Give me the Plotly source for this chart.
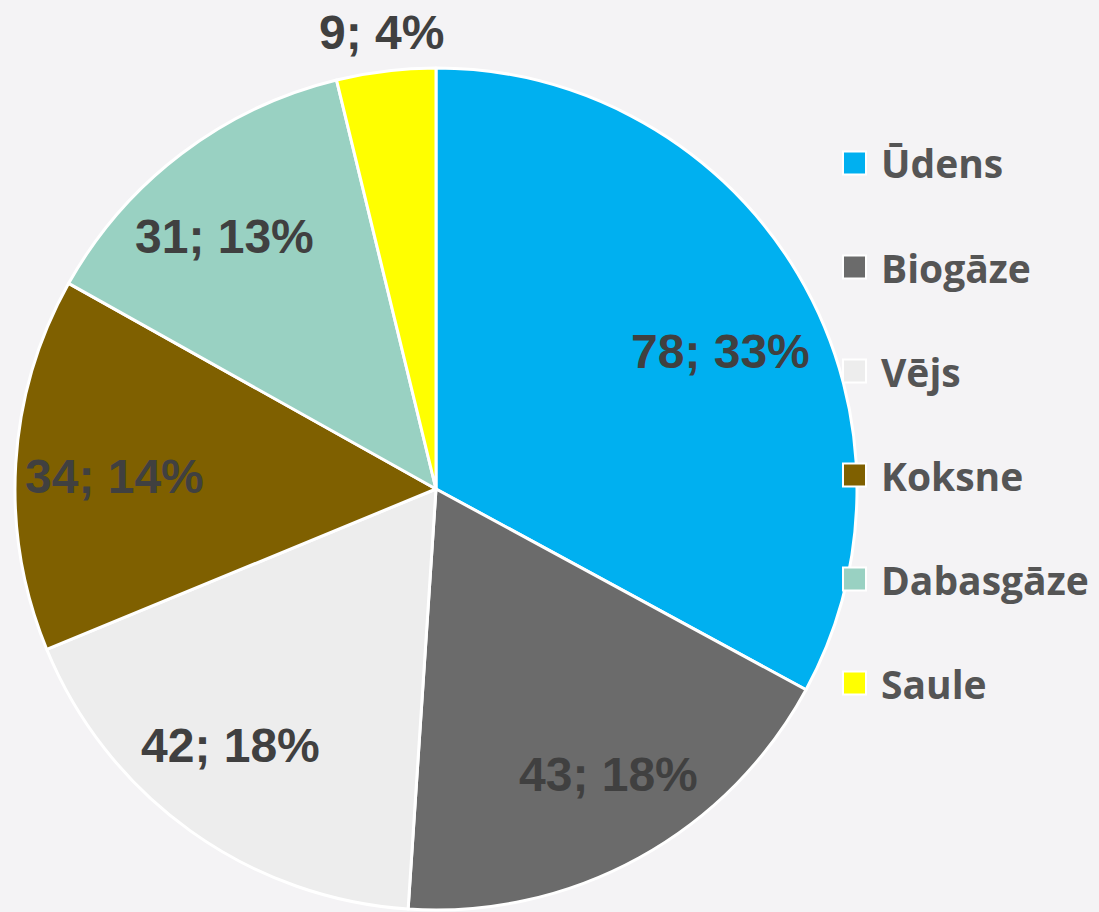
import math
import plotly.graph_objects as go

categories = ["Ūdens", "Biogāze", "Vējs", "Koksne", "Dabasgāze", "Saule"]
values = [78, 43, 42, 34, 31, 9]
colors = ["#00b0f0", "#6b6b6b", "#ededed", "#7f6000", "#99d1c2", "#ffff00"]
label_outside = [False, False, False, False, False, True]

W, H = 1099, 912
CX, CY, R = 436, 489, 421  # pixel geometry of pie
# small pixel nudges of data labels (layout only)
label_nudge = [(4, 29), (15, 0), (-15, -8), (4, 7), (-14, 7), (0, -3)]

fig = go.Figure()
fig.add_trace(go.Pie(
    labels=categories, values=values, sort=False, direction="clockwise", rotation=0,
    marker=dict(colors=colors, line=dict(color="white", width=3)),
    textinfo="none", hoverinfo="label+value+percent", showlegend=False,
    domain=dict(x=[(CX - R) / W, (CX + R) / W], y=[(H - CY - R) / H, (H - CY + R) / H]),
))

total = sum(values)
annotations = []
shapes = []
cum = 0
for cat, v, out, (nx, ny) in zip(categories, values, label_outside, label_nudge):
    mid = 90 - (cum + v / 2) / total * 360
    cum += v
    rf = 1.085 if out else 0.775
    px = CX + rf * R * math.cos(math.radians(mid)) + nx
    py = CY - rf * R * math.sin(math.radians(mid)) + ny
    pct = round(v / total * 100)
    annotations.append(dict(
        x=px / W, y=1 - py / H, xref="paper", yref="paper", showarrow=False,
        text=f"<b>{v}; {pct}%</b>", xanchor="center", yanchor="middle",
        font=dict(family="Liberation Sans, Arial", size=48, color="#404040"),
    ))

# manual legend
LX0, LY0, LSTEP, SQ = 843, 163, 104, 23
for i, (cat, col) in enumerate(zip(categories, colors)):
    yc = LY0 + i * LSTEP
    shapes.append(dict(
        type="rect", xref="paper", yref="paper",
        x0=LX0 / W, x1=(LX0 + SQ) / W, y0=1 - (yc + SQ / 2) / H, y1=1 - (yc - SQ / 2) / H,
        fillcolor=col, line=dict(color="white", width=2),
    ))
    annotations.append(dict(
        x=879 / W, y=1 - yc / H, xref="paper", yref="paper", showarrow=False,
        text=f"<b>{cat}</b>", xanchor="left", yanchor="middle",
        font=dict(family="Open Sans", size=39, color="#555555"),
    ))

fig.update_layout(
    width=W, height=H, margin=dict(l=0, r=0, t=0, b=0),
    paper_bgcolor="#f4f3f5", plot_bgcolor="#f4f3f5",
    annotations=annotations, shapes=shapes, showlegend=False,
)
fig.write_html("out.html", config={"displayModeBar": False},
               post_script="document.body.style.margin='0';document.body.style.background='#f4f3f5';")
